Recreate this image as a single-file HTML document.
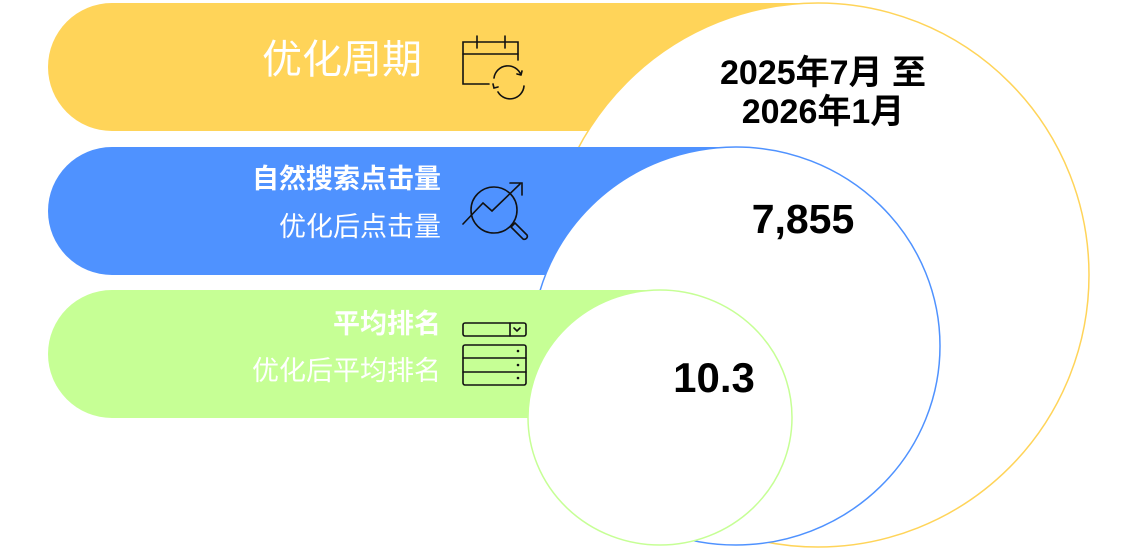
<!DOCTYPE html>
<html><head><meta charset="utf-8"><style>
body{margin:0;width:1138px;height:553px;background:#fff;overflow:hidden}
svg{display:block}
text{font-family:"Liberation Sans","Noto Sans CJK SC",sans-serif}
</style></head><body>
<svg width="1138" height="553" viewBox="0 0 1138 553">
<path d="M112 3 H818 V131 H112 A64 64 0 0 1 112 3 Z" fill="#ffd459"/>
<ellipse cx="818" cy="275" rx="271" ry="272" fill="#fff" stroke="#ffd459" stroke-width="1.5"/>
<path d="M112 147 H736 V275 H112 A64 64 0 0 1 112 147 Z" fill="#4f92ff"/>
<ellipse cx="736" cy="346" rx="204" ry="199" fill="#fff" stroke="#4f92ff" stroke-width="1.5"/>
<path d="M112 290 H660 V418 H112 A64 64 0 0 1 112 290 Z" fill="#c6ff95"/>
<ellipse cx="660" cy="417.5" rx="132" ry="127.5" fill="#fff" stroke="#c6ff95" stroke-width="1.5"/>

<text x="422" y="73" text-anchor="end" font-size="40" fill="#fff">优化周期</text>
<text x="441" y="188" text-anchor="end" font-size="27" font-weight="bold" fill="#fff">自然搜索点击量</text>
<text x="441" y="236" text-anchor="end" font-size="27" fill="#fff">优化后点击量</text>
<text x="441" y="333" text-anchor="end" font-size="27" font-weight="bold" fill="#fff">平均排名</text>
<text x="441" y="380" text-anchor="end" font-size="27" fill="#fff">优化后平均排名</text>

<text x="823" y="84" text-anchor="middle" font-size="34" font-weight="bold" fill="#000">2025年7月 至</text>
<text x="823" y="123" text-anchor="middle" font-size="34" font-weight="bold" fill="#000">2026年1月</text>
<text x="803" y="233" text-anchor="middle" font-size="41" font-weight="bold" fill="#000">7,855</text>
<text x="714" y="392" text-anchor="middle" font-size="42" font-weight="bold" fill="#000">10.3</text>

<g fill="none" stroke="#111" stroke-width="1.6" stroke-linecap="round">
<path d="M489 84 H463 V42 H518 V60"/>
<path d="M463 54 H518"/>
<path d="M477 36 V48 M505 36 V48"/>
<path d="M494 78 A14 14 0 0 1 521 75 M521 75 l-4 -1 M521 75 l1 -4"/>
<path d="M524 86 A14 14 0 0 1 498 92 M493 84 l1 4 l4 -1"/>
<circle cx="494" cy="210" r="23"/>
<path d="M463 224 L483 203 L492 211 L520 184 M510 183 H522 V195"/>
<path d="M511 227 L523 239 A3 3 0 0 0 527 235 L515 223 Z"/>
<rect x="463" y="323" width="63" height="13" rx="2"/>
<path d="M510 323 V336 M514 328 l3 3 l3 -3"/>
<rect x="463" y="345" width="63" height="40" rx="2"/>
<path d="M463 358 H526 M463 372 H526"/>
</g>
<g fill="#111"><circle cx="518" cy="351" r="1.3"/><circle cx="518" cy="365" r="1.3"/><circle cx="518" cy="378" r="1.3"/></g>
</svg>
</body></html>
